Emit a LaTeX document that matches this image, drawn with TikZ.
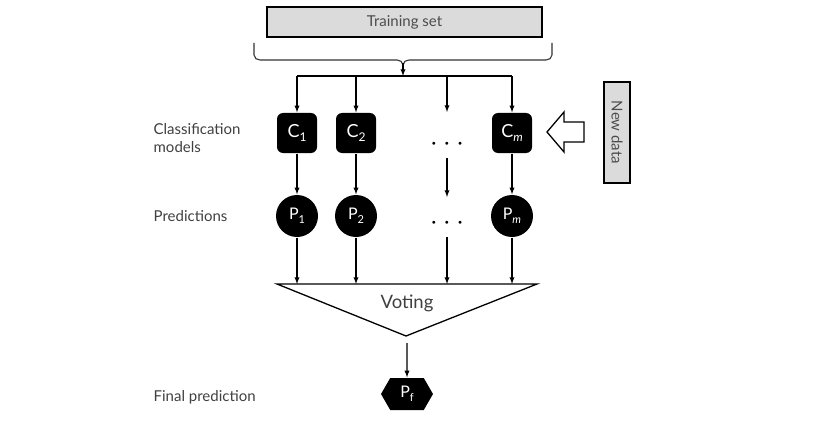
\documentclass[tikz,border=0pt]{standalone}
\usepackage{fontspec}
\setmainfont{Lato}
\usetikzlibrary{shapes.symbols,positioning,arrows}

\begin{document}
\begin{tikzpicture}[x=1pt,y=-1pt,line width=1.3pt,>=latex,
every node/.style={align=center,inner sep=0},
every edge/.style={draw=black,->},
grayboxstyle/.style={shape=rectangle,draw,fill=gray!28,text=black!70},
modelstyle/.style={shape=rectangle,rounded corners=6pt,fill=black,text=white,minimum width=40pt,minimum height=40pt,font=\fontsize{18}{18}\selectfont},
predstyle/.style={shape=circle,fill=black,text=white,minimum size=42pt,font=\fontsize{16}{16}\selectfont},
dotsstyle/.style={font=\fontsize{7}{7}\selectfont},
labelstyle/.style={anchor=west,align=left,text=black!75,font=\fontsize{15}{18}\selectfont},]

\useasboundingbox (0,0) rectangle (829,425);

% training data
\node [grayboxstyle,minimum width=275pt,minimum height=30pt,font=\fontsize{15}{15}\selectfont] (train) at (404.5,22) {Training set};
\draw [line width=1.1pt,black!80] (254,43) -- (254,55) to[out=-90,in=180] (260,60) -- (397,60) to[out=0,in=90] (403,65) to[out=90,in=180] (409,60) -- (546,60) to[out=0,in=-90] (552,55) -- (552,43);
\coordinate (tip) at (403,63);
\coordinate (split) at (403,76);
\coordinate (t1) at (297,76);
\coordinate (t2) at (356,76);
\coordinate (t3) at (447,76);
\coordinate (tm) at (512,76);
\coordinate (c3) at (447,112);

% models
\node [modelstyle] (C1) at (297,133) {C\raisebox{-4pt}{\fontsize{12}{12}\selectfont 1}};
\node [modelstyle] (C2) at (356,133) {C\raisebox{-4pt}{\fontsize{12}{12}\selectfont 2}};
\node [dotsstyle] (cdots) at (447,144) {${\bullet}\hspace{9pt}{\bullet}\hspace{9pt}{\bullet}$};
\node [modelstyle] (Cm) at (512,133) {C\raisebox{-4pt}{\fontsize{12}{12}\selectfont\itshape m}};

% new data
\node [grayboxstyle,rotate=-90,minimum width=101pt,minimum height=26pt,font=\fontsize{15}{15}\selectfont] (newdata) at (617,132.5) {New data};
\draw [fill=white] (547,132) -- (564,112) -- (564,122) -- (584,122) -- (584,142) -- (564,142) -- (564,152) -- cycle;

% predictions
\node [predstyle] (P1) at (297,216) {P\raisebox{-4pt}{\fontsize{11}{11}\selectfont 1}};
\node [predstyle] (P2) at (356,216) {P\raisebox{-4pt}{\fontsize{11}{11}\selectfont 2}};
\node [dotsstyle] (pdots) at (447,223) {${\bullet}\hspace{9pt}{\bullet}\hspace{9pt}{\bullet}$};
\node [predstyle] (Pm) at (512,216) {P\raisebox{-4pt}{\fontsize{11}{11}\selectfont\itshape m}};
\coordinate (q3a) at (447,158);
\coordinate (q3b) at (447,197);
\coordinate (v3a) at (447,237);

% voting
\coordinate (vl) at (277,284);
\coordinate (vr) at (537,284);
\coordinate (vb) at (406,336);
\coordinate (v1) at (297,284);
\coordinate (v2) at (356,284);
\coordinate (v3) at (447,284);
\coordinate (vm) at (512,284);
\draw (vl) -- (vr) -- (vb) -- cycle;
\node [text=black!75,font=\fontsize{18.5}{18.5}\selectfont] (vote) at (407,303) {Voting};
\node [shape=signal,signal to=east and west,signal pointer angle=120,fill=black,text=white,minimum width=52pt,minimum height=32pt,font=\fontsize{16}{16}\selectfont] (Pf) at (407,394) {P\raisebox{-4pt}{\fontsize{11}{11}\selectfont f}};
\coordinate (fa) at (407,343);

% labels
\node [labelstyle] (lab1) at (153,138) {Classification\\models};
\node [labelstyle] (lab2) at (153,216) {Predictions};
\node [labelstyle] (lab3) at (153,397) {Final prediction};

\path (tip) edge (split);
\draw (t1) -- (tm);
\path (t1) edge (C1);
\path (t2) edge (C2);
\path (t3) edge (c3);
\path (tm) edge (Cm);
\path (C1) edge (P1);
\path (C2) edge (P2);
\path (q3a) edge (q3b);
\path (Cm) edge (Pm);
\path (P1) edge (v1);
\path (P2) edge (v2);
\path (v3a) edge (v3);
\path (Pm) edge (vm);
\path (fa) edge (Pf);

\end{tikzpicture}
\end{document}
